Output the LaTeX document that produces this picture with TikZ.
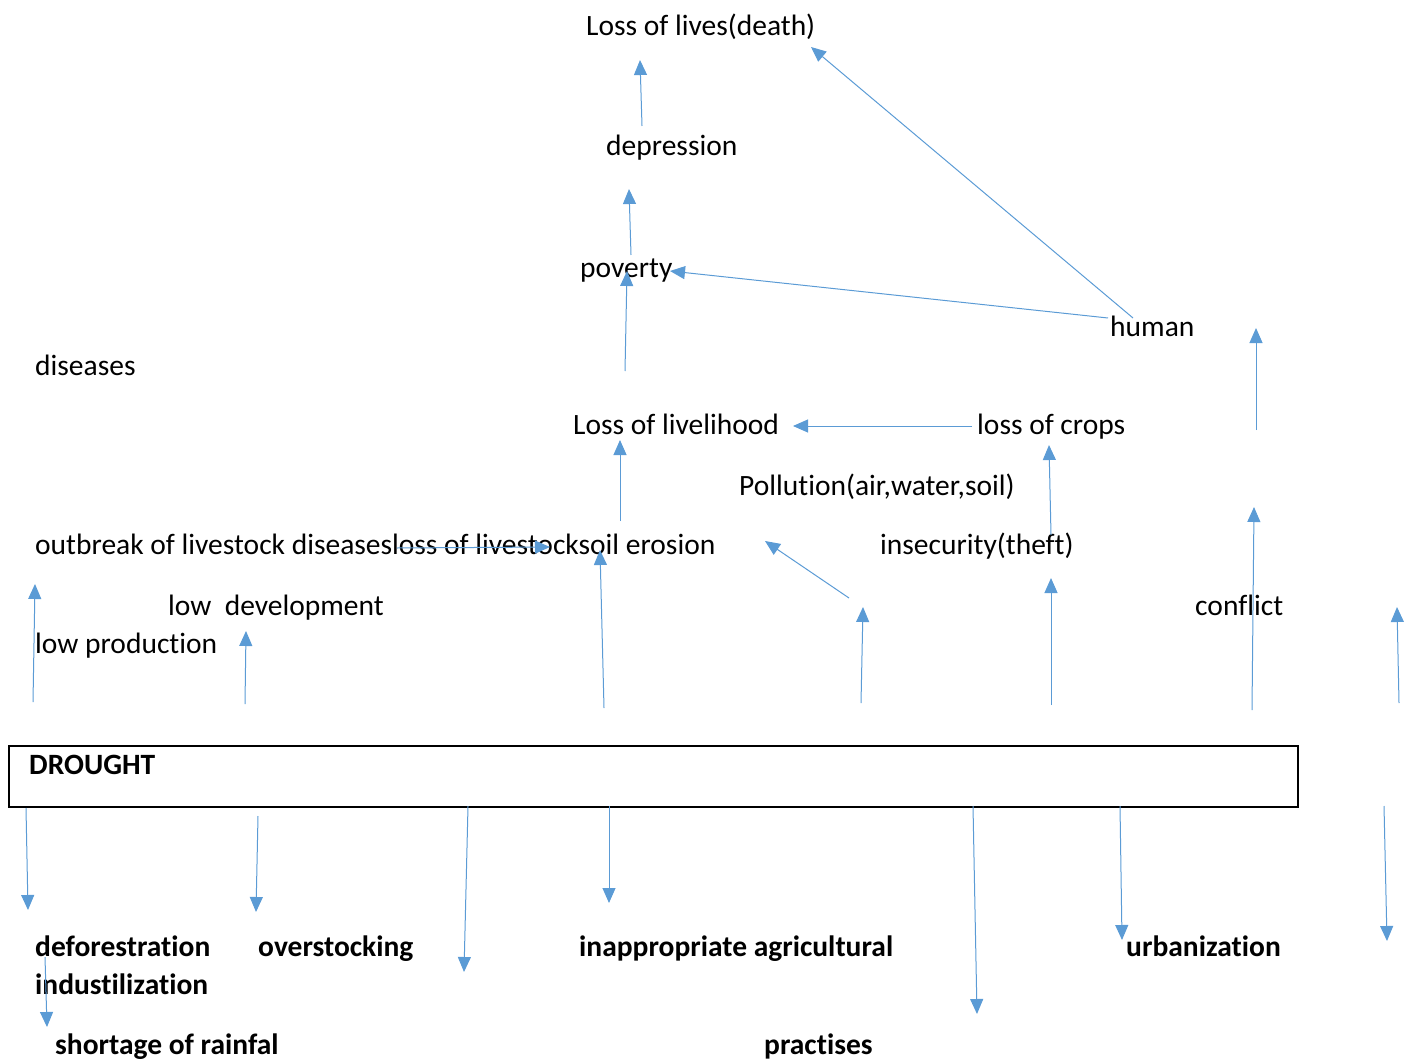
\documentclass[tikz,border=0pt]{standalone}
\usepackage{fontspec}
\setmainfont{Carlito}[Ligatures=NoCommon]
\usetikzlibrary{arrows.meta}
\definecolor{linkblue}{HTML}{5B9BD5}

\begin{document}
\begin{tikzpicture}[
        x=1pt, y=-1pt,
        txt/.style={
          anchor=base west,
          inner sep=0pt,
          font=\fontsize{29.5}{34}\selectfont
        },
        btxt/.style={
          txt,
          font=\fontsize{29.5}{34}\selectfont\bfseries
        },
        arrow/.style={
          -{Triangle[length=15pt,width=13pt]},
          line width=1pt,
          linkblue
        }
      ]
      \useasboundingbox (0,0) rectangle (1410,1059);

      % effects
      \node[txt] (lives) at (586,36) {Loss of lives(death)};
      \node[txt] (depression) at (606,156) {depression};
      \node[txt] (poverty) at (580,277) {poverty};
      \node[txt] (human) at (1110,336) {human};
      \node[txt] (diseases) at (35,375) {diseases};
      \node[txt] (livelihood) at (573,434) {Loss of livelihood};
      \node[txt] (crops) at (977,434) {loss of crops};
      \node[txt] (pollution) at (739,495) {Pollution(air,water,soil)};
      \node[txt] (outbreak) at (35,554) {outbreak of livestock diseasesloss of livestocksoil erosion};
      \node[txt] (insecurity) at (880,554) {insecurity(theft)};
      \node[txt] (lowdev) at (168,615) {low\ \ development};
      \node[txt] (conflict) at (1195,615) {conflict};
      \node[txt] (lowprod) at (35,653) {low production};

      % drought box
      \node[draw, line width=1.6pt, anchor=north west, inner sep=0pt,
        minimum width=1289pt, minimum height=61pt] (drought) at (8,745) {};
      \node[btxt] (droughttxt) at (29,774) {DROUGHT};

      % causes
      \node[btxt] (defor) at (35,956) {deforestration};
      \node[btxt] (overstock) at (258,956) {overstocking};
      \node[btxt] (inappr) at (579,956) {inappropriate agricultural};
      \node[btxt] (urban) at (1126,956) {urbanization};
      \node[btxt] (indust) at (35,994) {industilization};
      \node[btxt] (rainfal) at (55,1054) {shortage of rainfal};
      \node[btxt] (practises) at (764,1054) {practises};

      % arrow ends
      \coordinate (dep-s) at (642,126);  \coordinate (dep-e) at (640,60);
      \coordinate (pov-s) at (631,255);  \coordinate (pov-e) at (629,189);
      \coordinate (liv-s) at (625,371);  \coordinate (liv-e) at (627,271);
      \coordinate (hum-s) at (1108,318); \coordinate (hum-e) at (670,271);
      \coordinate (hul-s) at (1133,318); \coordinate (hul-e) at (811,47);
      \coordinate (rhu-s) at (1256,430); \coordinate (rhu-e) at (1256,328);
      \coordinate (crp-s) at (972,426);  \coordinate (crp-e) at (793,426);
      \coordinate (ero-s) at (620,521);  \coordinate (ero-e) at (620,440);
      \coordinate (ins-s) at (1051,535); \coordinate (ins-e) at (1049,445);
      \coordinate (dis-s) at (397,548);  \coordinate (dis-e) at (550,547);
      \coordinate (u1-s) at (604,708);   \coordinate (u1-e) at (600,550);
      \coordinate (pol-s) at (849,598);  \coordinate (pol-e) at (765,541);
      \coordinate (u2-s) at (861,703);   \coordinate (u2-e) at (863,607);
      \coordinate (u3-s) at (1051,705);  \coordinate (u3-e) at (1051,578);
      \coordinate (u4-s) at (1252,710);  \coordinate (u4-e) at (1254,507);
      \coordinate (u5-s) at (1399,703);  \coordinate (u5-e) at (1397,607);
      \coordinate (u6-s) at (33,702);    \coordinate (u6-e) at (35,584);
      \coordinate (u7-s) at (245,704);   \coordinate (u7-e) at (246,631);
      \coordinate (d1-s) at (26,808);    \coordinate (d1-e) at (28,910);
      \coordinate (d2-s) at (258,816);   \coordinate (d2-e) at (256,912);
      \coordinate (d3-s) at (468,806);   \coordinate (d3-e) at (464,972);
      \coordinate (d4-s) at (609,806);   \coordinate (d4-e) at (609,903);
      \coordinate (d5-s) at (973,806);   \coordinate (d5-e) at (977,1014);
      \coordinate (d6-s) at (1120,806);  \coordinate (d6-e) at (1122,940);
      \coordinate (d7-s) at (1384,806);  \coordinate (d7-e) at (1387,941);
      \coordinate (d8-s) at (45,957);    \coordinate (d8-e) at (47,1027);

      % upper arrows
      \draw[arrow] (dep-s) -- (dep-e);
      \draw[arrow] (pov-s) -- (pov-e);
      \draw[arrow] (liv-s) -- (liv-e);
      \draw[arrow] (hum-s) -- (hum-e);
      \draw[arrow] (hul-s) -- (hul-e);
      \draw[arrow] (rhu-s) -- (rhu-e);
      \draw[arrow] (crp-s) -- (crp-e);
      \draw[arrow] (ero-s) -- (ero-e);
      \draw[arrow] (ins-s) -- (ins-e);
      \draw[arrow] (dis-s) -- (dis-e);
      \draw[arrow] (pol-s) -- (pol-e);
      \draw[arrow] (u1-s) -- (u1-e);
      \draw[arrow] (u2-s) -- (u2-e);
      \draw[arrow] (u3-s) -- (u3-e);
      \draw[arrow] (u4-s) -- (u4-e);
      \draw[arrow] (u5-s) -- (u5-e);
      \draw[arrow] (u6-s) -- (u6-e);
      \draw[arrow] (u7-s) -- (u7-e);

      % lower arrows
      \draw[arrow] (d1-s) -- (d1-e);
      \draw[arrow] (d2-s) -- (d2-e);
      \draw[arrow] (d3-s) -- (d3-e);
      \draw[arrow] (d4-s) -- (d4-e);
      \draw[arrow] (d5-s) -- (d5-e);
      \draw[arrow] (d6-s) -- (d6-e);
      \draw[arrow] (d7-s) -- (d7-e);
      \draw[arrow] (d8-s) -- (d8-e);

      \end{tikzpicture}
\end{document}
